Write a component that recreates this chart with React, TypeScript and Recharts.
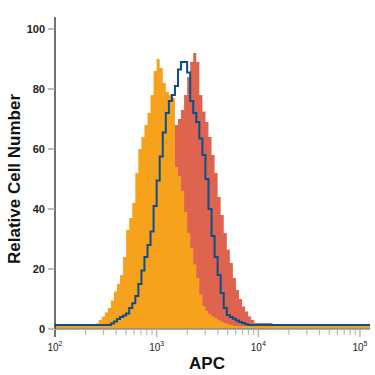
import { Area, ComposedChart, Label, Line, XAxis, YAxis } from "recharts";

// log10 channel bins, 0.03 decade wide, starting at 10^2.40
const LOG_START = 2.4;
const LOG_STEP = 0.03;
const X_MIN = 100;
const X_MAX = 125600;

const ORANGE = [
  1.8, 3, 4.1, 5.5, 7, 9.5, 12.5, 15, 18, 24, 33, 37, 42, 52, 60, 64, 68, 72, 78, 86, 90, 87,
  82, 79, 78, 77, 54, 51, 46, 39, 32, 27, 21.5, 17, 11.5, 7.6, 6, 5, 4.2, 3.6, 2.9, 2.3, 1.9,
  1.6, 1.3, 1.1, 1, 1, 1, 1, 1, 1, 1, 1, 1, 1, 1, 1, 1,
];
const RED = [
  1, 1, 1, 1, 1, 1, 1, 1, 1.5, 2, 3, 4, 5, 7, 9, 12, 15, 19, 24, 29, 35, 42, 50, 57, 62, 65, 68,
  70, 73, 78, 84, 89, 92, 89, 78, 72.5, 69, 64, 58, 52, 44, 38, 32, 26.5, 22, 17, 13, 10, 7.5,
  5.8, 4.2, 3, 2, 2, 2, 2, 2, 2, 1,
];
const BLUE = [
  1.3, 1.3, 1.3, 1.3, 1.3, 1.8, 2.5, 3.3, 4, 4.5, 5.2, 7, 8.6, 11, 15, 19.5, 24, 28, 32.5, 41,
  49.5, 57.5, 65.5, 72, 76, 78, 81, 86.5, 89, 89, 85.5, 76, 72, 69, 63.5, 58, 50, 40, 31, 24,
  18, 12, 7, 4.7, 4, 3.4, 2.8, 2.3, 2, 1.6, 1.3, 1.3, 1.3, 1.3, 1.3, 1.3, 1.3, 1.3, 1.3,
];
const BASE = { orange: 1, red: 1, blue: 1.3 };

const MAJOR_TICKS = [100, 1000, 10000, 100000];
const X_TICKS = [
  100, 200, 300, 400, 500, 600, 700, 800, 900,
  1000, 2000, 3000, 4000, 5000, 6000, 7000, 8000, 9000,
  10000, 20000, 30000, 40000, 50000, 60000, 70000, 80000, 90000,
  100000,
];
const Y_TICKS = [0, 20, 40, 60, 80, 100];

const data = [
  { x: X_MIN, ...BASE },
  ...ORANGE.map((orange, i) => ({
    x: 10 ** (LOG_START + i * LOG_STEP),
    orange,
    red: RED[i],
    blue: BLUE[i],
  })),
  { x: 10 ** (LOG_START + ORANGE.length * LOG_STEP), ...BASE },
  { x: X_MAX, ...BASE },
];

const FONT = "'Liberation Sans', Arial, sans-serif";

function LogTick({ x, y, payload }: any) {
  const v = payload.value;
  const major = MAJOR_TICKS.includes(v);
  return (
    <g>
      <line
        x1={x}
        x2={x}
        y1={y + 1}
        y2={y + (major ? 8 : 6)}
        stroke={v === 100 ? "#111" : "#b8b8b8"}
        strokeWidth={major && v !== 100 ? 1.5 : 1.2}
      />
      {major && (
        <text x={x} y={y + 22} textAnchor="middle" fontFamily={FONT} fontSize={10} fill="#222">
          <tspan>10</tspan>
          <tspan dy={-5} fontSize={7}>
            {Math.round(Math.log10(v))}
          </tspan>
        </text>
      )}
    </g>
  );
}

export default function App() {
  return (
    <div style={{ position: "absolute", left: 0, top: 0, background: "#fff" }}>
      <ComposedChart
        width={375}
        height={375}
        data={data}
        margin={{ top: 17, right: 5, bottom: 0, left: 0 }}
      >
        <Area
          type="stepAfter"
          dataKey="red"
          fill="#df644f"
          fillOpacity={1}
          stroke="none"
          isAnimationActive={false}
        />
        <Area
          type="stepAfter"
          dataKey="orange"
          fill="#f7a21c"
          fillOpacity={1}
          stroke="none"
          isAnimationActive={false}
        />
        <Line
          type="stepAfter"
          dataKey="blue"
          stroke="#0b4e8b"
          strokeWidth={2}
          dot={false}
          isAnimationActive={false}
        />
        <XAxis
          dataKey="x"
          type="number"
          scale="log"
          domain={[X_MIN, X_MAX]}
          allowDataOverflow
          ticks={X_TICKS}
          interval={0}
          height={46}
          tickSize={0}
          tickMargin={0}
          tickLine={false}
          tick={<LogTick />}
          axisLine={{ stroke: "#8c8c8c", strokeWidth: 1.5 }}
        >
          <Label
            content={() => (
              <text
                x={207}
                y={369}
                textAnchor="middle"
                fontFamily={FONT}
                fontWeight="bold"
                fontSize={17}
                fill="#111"
              >
                APC
              </text>
            )}
          />
        </XAxis>
        <YAxis
          type="number"
          domain={[0, 104]}
          ticks={Y_TICKS}
          interval={0}
          width={55}
          tickSize={7}
          tickMargin={3}
          tickLine={{ stroke: "#aaa", strokeWidth: 1.5 }}
          axisLine={{ stroke: "#111", strokeWidth: 1.2 }}
          tick={{ fontFamily: FONT, fontSize: 11, fontWeight: "bold", fill: "#222" }}
        >
          <Label
            content={() => (
              <text
                x={14}
                y={179}
                transform="rotate(-90 14 179)"
                textAnchor="middle"
                dominantBaseline="central"
                fontFamily={FONT}
                fontWeight="bold"
                fontSize={17}
                fill="#111"
              >
                Relative Cell Number
              </text>
            )}
          />
        </YAxis>
      </ComposedChart>
    </div>
  );
}
